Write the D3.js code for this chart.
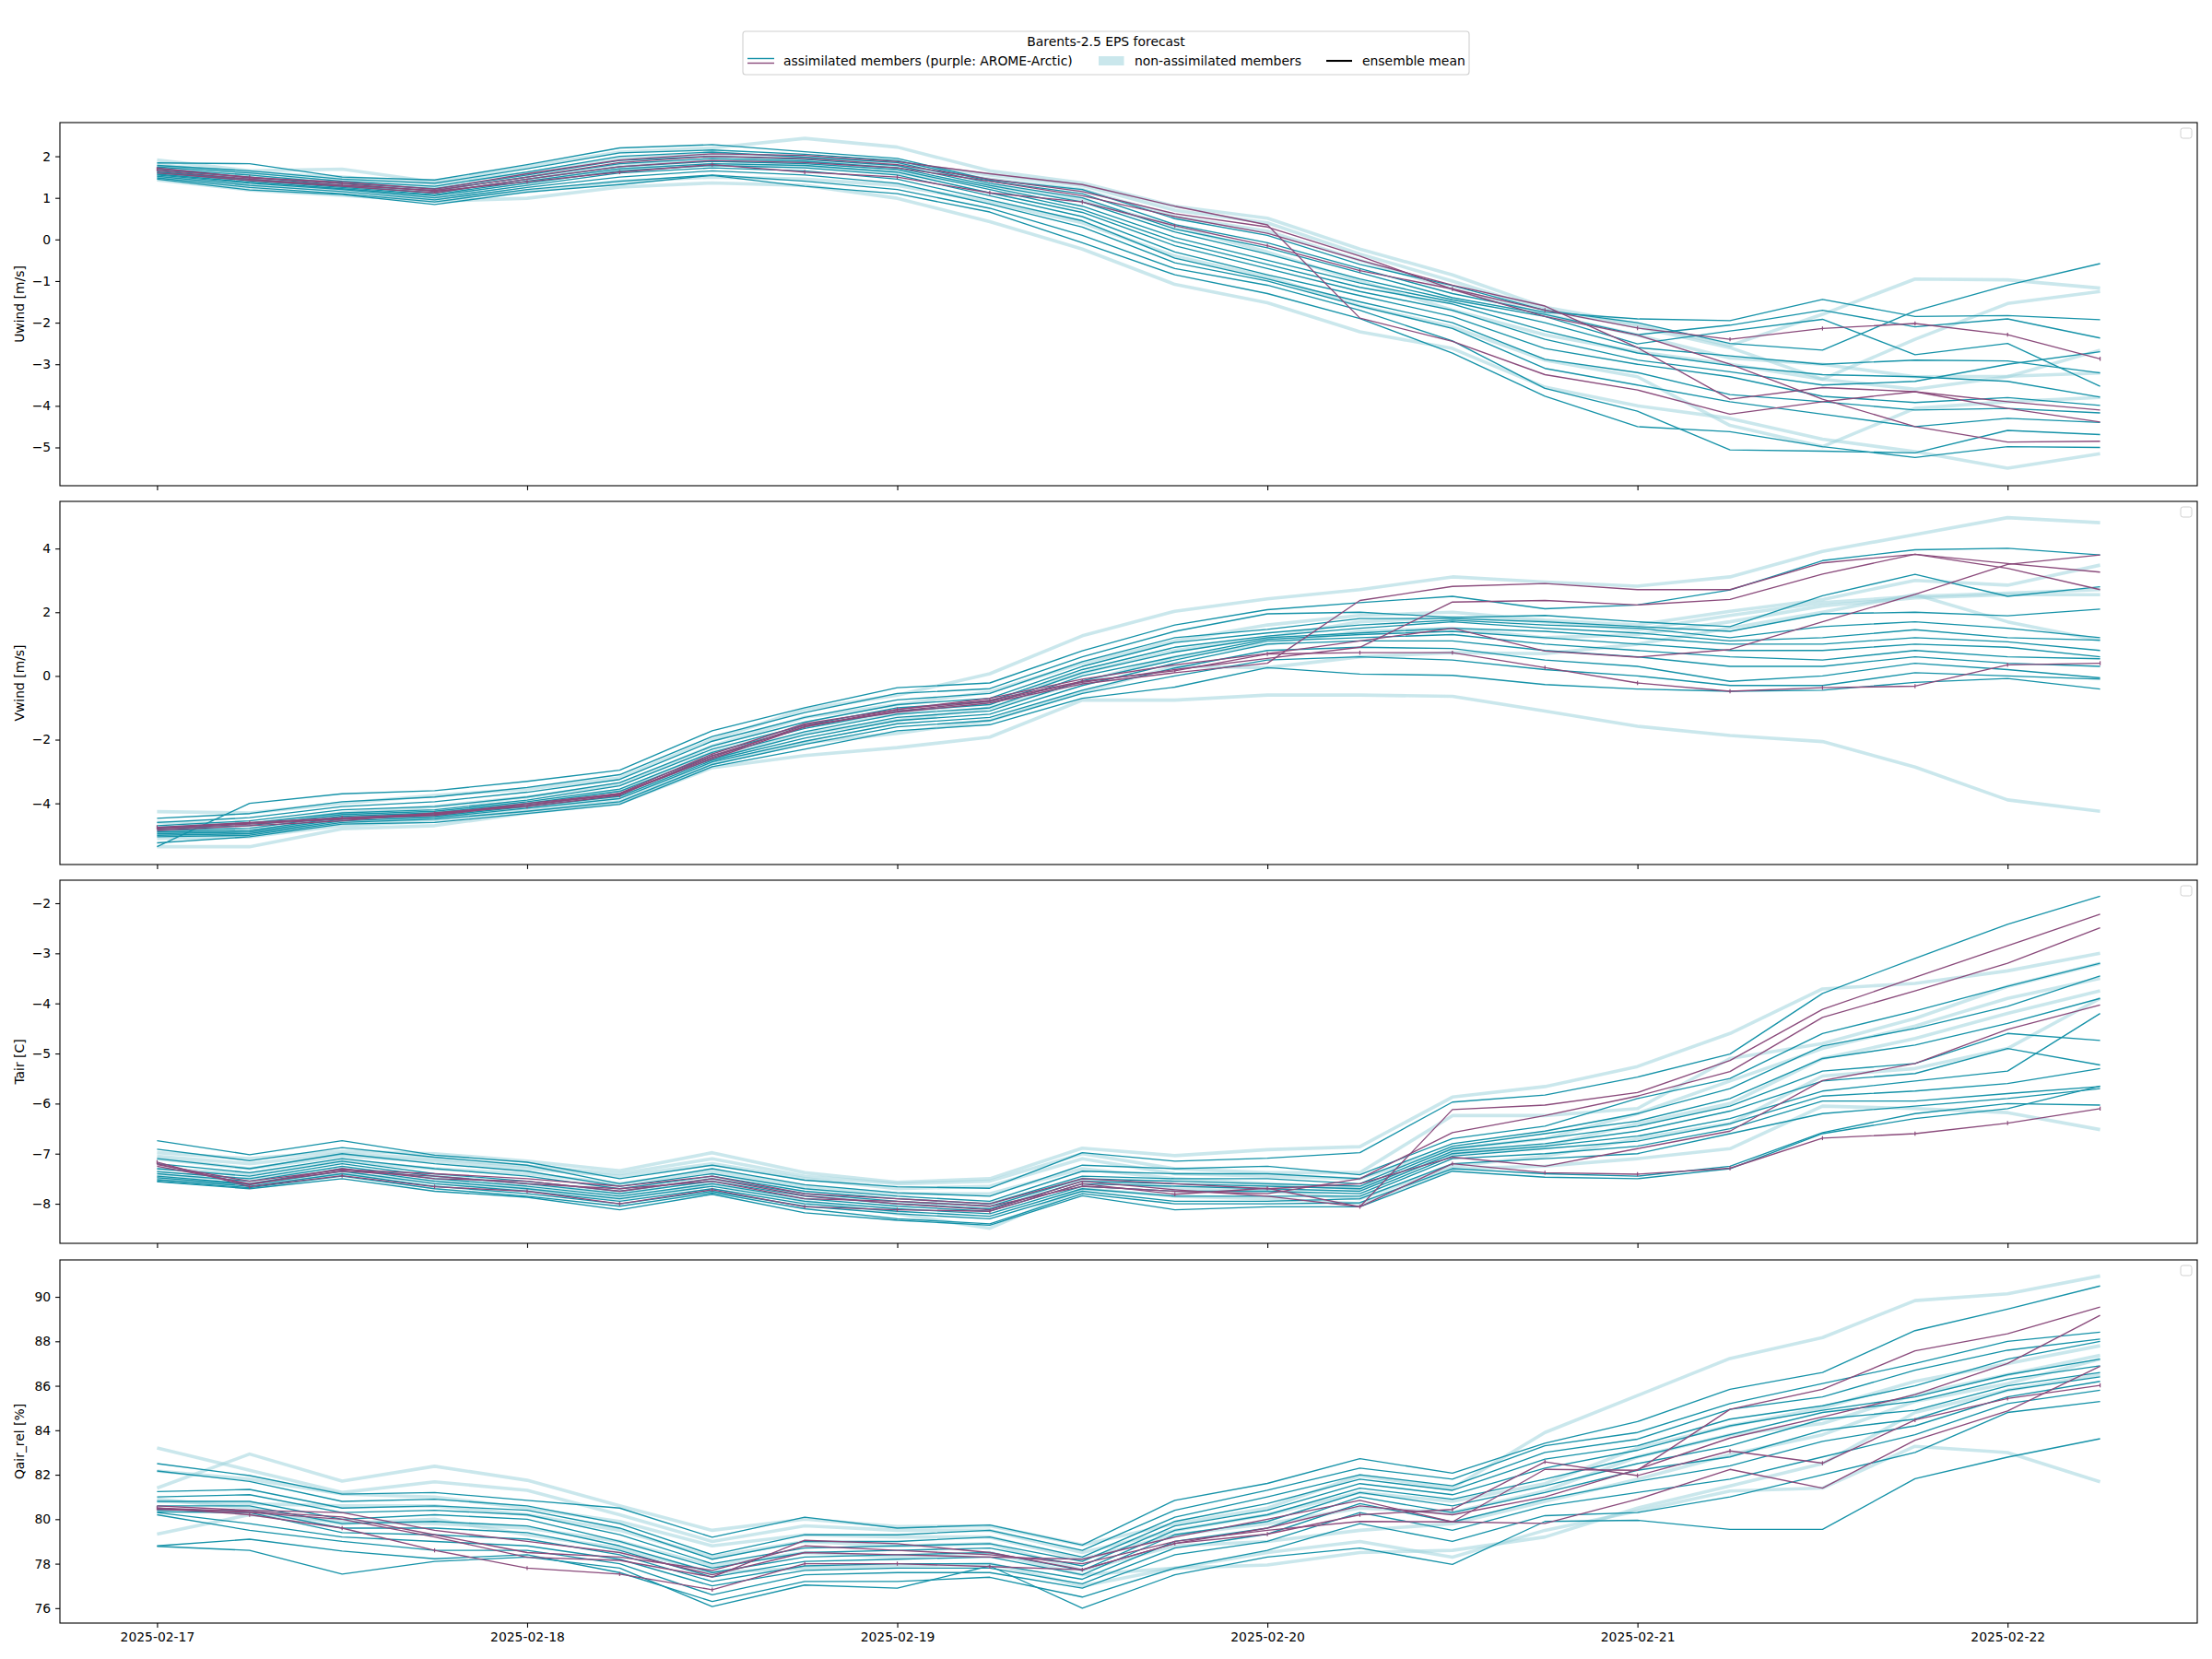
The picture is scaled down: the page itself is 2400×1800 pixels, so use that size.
<!DOCTYPE html>
<html><head><meta charset="utf-8">
<script src="https://cdn.jsdelivr.net/npm/d3@7"></script>
<style>body{margin:0;background:#fff;} svg{display:block;} text{font-family:"DejaVu Sans",sans-serif;}</style>
</head><body><svg id="chart" width="2400" height="1800"></svg>
<script>
// ---------------- DATA ----------------
const hours = [0,6,12,18,24,30,36,42,48,54,60,66,72,78,84,90,96,102,108,114,120,126];
const dateTickHours = [0,24,48,72,96,120];
const dateLabels = ["2025-02-17","2025-02-18","2025-02-19","2025-02-20","2025-02-21","2025-02-22"];
const panelLabels = ["Uwind [m/s]","Vwind [m/s]","Tair [C]","Qair_rel [%]"];
const uwindTicks = [-5,-4,-3,-2,-1,0,1,2];
const vwindTicks = [-4,-2,0,2,4];
const tairTicks = [-8,-7,-6,-5,-4,-3,-2];
const qairTicks = [76,78,80,82,84,86,88,90];
const legendTitle = "Barents-2.5 EPS forecast";
const legendLabels = ["assimilated members (purple: AROME-Arctic)","non-assimilated members","ensemble mean"];

// Uwind
const uwindTeal = [
 [1.84,1.82,1.5,1.43,1.8,2.2,2.28,2.11,1.95,1.43,1.2,0.5,0.1,-0.6,-1.11,-1.7,-2.0,-2.5,-2.66,-1.72,-1.1,-0.58],
 [1.78,1.65,1.45,1.35,1.7,2.08,2.15,2.05,1.9,1.4,1.1,0.36,-0.08,-0.7,-1.3,-1.75,-1.91,-1.95,-1.44,-1.85,-1.83,-1.93],
 [1.74,1.6,1.4,1.28,1.62,2.0,2.1,1.98,1.85,1.35,1.0,0.25,-0.2,-0.8,-1.4,-1.8,-2.29,-2.06,-1.7,-2.1,-1.91,-2.37],
 [1.7,1.55,1.35,1.22,1.55,1.9,2.0,1.92,1.78,1.3,0.9,0.18,-0.35,-0.95,-1.45,-1.85,-2.51,-2.2,-1.92,-2.77,-2.5,-3.53],
 [1.66,1.5,1.3,1.18,1.5,1.82,1.95,1.88,1.72,1.25,0.8,0.05,-0.5,-1.05,-1.5,-2.0,-2.6,-2.8,-3.0,-2.9,-2.92,-3.21],
 [1.62,1.45,1.28,1.12,1.45,1.75,1.88,1.82,1.68,1.2,0.72,-0.05,-0.6,-1.15,-1.55,-2.2,-2.73,-3.03,-3.25,-3.3,-3.41,-3.79],
 [1.6,1.42,1.25,1.08,1.4,1.7,1.82,1.78,1.62,1.12,0.65,-0.15,-0.7,-1.25,-1.7,-2.4,-2.9,-3.18,-3.5,-3.41,-3.0,-2.7],
 [1.57,1.38,1.22,1.05,1.35,1.65,1.78,1.72,1.55,1.05,0.55,-0.3,-0.85,-1.35,-1.85,-2.62,-3.0,-3.3,-3.77,-3.92,-3.8,-3.99],
 [1.55,1.35,1.2,1.0,1.3,1.6,1.72,1.65,1.45,0.95,0.45,-0.45,-0.95,-1.5,-2.0,-2.88,-3.2,-3.73,-3.9,-4.1,-4.06,-4.17],
 [1.52,1.3,1.15,0.95,1.25,1.5,1.65,1.55,1.35,0.85,0.3,-0.56,-1.0,-1.6,-2.14,-3.1,-3.5,-3.9,-4.2,-4.5,-4.3,-4.4],
 [1.48,1.25,1.1,0.9,1.2,1.4,1.55,1.4,1.2,0.75,0.1,-0.7,-1.1,-1.7,-2.44,-3.58,-4.13,-5.06,-5.09,-5.13,-4.59,-4.69],
 [1.45,1.19,1.08,0.84,1.14,1.32,1.54,1.28,1.1,0.66,-0.08,-0.85,-1.3,-1.9,-2.73,-3.77,-4.5,-4.62,-4.98,-5.24,-4.98,-5.0]
];
const uwindLight = [
 [1.91,1.65,1.69,1.38,1.75,2.1,2.2,2.43,2.22,1.65,1.36,0.8,0.51,-0.23,-0.85,-1.63,-2.03,-2.55,-1.8,-0.95,-0.97,-1.17],
 [1.8,1.6,1.5,1.35,1.6,1.95,2.05,1.95,1.85,1.55,1.3,0.7,0.4,-0.35,-1.0,-1.7,-2.1,-2.6,-3.36,-2.4,-1.54,-1.25],
 [1.7,1.5,1.4,1.25,1.5,1.8,1.9,1.85,1.75,1.45,1.2,0.55,0.2,-0.5,-1.19,-1.8,-2.3,-2.85,-3.0,-3.3,-3.29,-3.21],
 [1.6,1.45,1.3,1.15,1.4,1.7,1.8,1.75,1.6,1.3,0.95,0.3,-0.3,-1.0,-1.7,-2.29,-2.7,-3.0,-3.36,-3.6,-3.3,-2.66],
 [1.5,1.3,1.2,1.0,1.15,1.4,1.5,1.45,1.3,0.9,0.4,-0.4,-0.9,-1.6,-2.1,-2.9,-3.3,-4.47,-4.98,-4.06,-3.9,-3.8],
 [1.43,1.19,1.06,0.92,0.99,1.26,1.36,1.3,0.99,0.43,-0.23,-1.08,-1.52,-2.22,-2.62,-3.55,-4.0,-4.3,-4.8,-5.1,-5.5,-5.15]
];
const uwindPurple = [
 [1.69,1.5,1.34,1.16,1.39,1.62,1.8,1.62,1.5,1.12,0.9,0.33,-0.15,-0.75,-1.19,-1.7,-2.13,-2.4,-2.14,-2.02,-2.29,-2.87],
 [1.72,1.48,1.38,1.21,1.58,1.91,2.06,2.02,1.87,1.58,1.32,0.8,0.35,-1.89,-2.45,-3.25,-3.62,-4.2,-3.9,-3.66,-3.9,-4.1],
 [1.65,1.45,1.3,1.18,1.5,1.85,2.0,1.95,1.8,1.45,1.15,0.62,0.3,-0.4,-1.2,-1.85,-2.3,-3.0,-3.84,-4.5,-4.87,-4.85],
 [1.6,1.42,1.28,1.12,1.45,1.75,1.9,1.85,1.72,1.4,1.05,0.55,0.15,-0.5,-1.1,-1.6,-2.6,-3.84,-3.56,-3.66,-4.06,-4.39]
];

// Vwind
const vwindTeal = [
 [-5.36,-4.0,-3.7,-3.6,-3.31,-2.96,-1.72,-1.0,-0.37,-0.22,0.79,1.6,2.08,2.3,2.5,2.11,2.23,2.7,3.62,3.96,4.01,3.8],
 [-4.47,-4.32,-3.95,-3.8,-3.5,-3.1,-1.9,-1.15,-0.55,-0.4,0.6,1.4,1.95,2.0,1.84,1.9,1.7,1.55,2.52,3.19,2.5,2.8],
 [-4.6,-4.45,-4.1,-3.95,-3.65,-3.25,-2.05,-1.3,-0.75,-0.55,0.45,1.2,1.46,1.8,1.8,1.7,1.55,1.4,1.95,2.0,1.89,2.1],
 [-4.7,-4.55,-4.2,-4.1,-3.8,-3.35,-2.2,-1.45,-0.9,-0.7,0.3,1.05,1.35,1.6,1.75,1.6,1.5,1.2,1.55,1.7,1.5,1.2],
 [-4.75,-4.62,-4.3,-4.2,-3.9,-3.45,-2.3,-1.55,-1.0,-0.8,0.2,0.9,1.25,1.5,1.7,1.5,1.35,1.1,1.2,1.45,1.2,1.12],
 [-4.8,-4.7,-4.35,-4.25,-3.95,-3.55,-2.4,-1.65,-1.1,-0.9,0.1,0.75,1.2,1.35,1.5,1.4,1.2,1.0,1.0,1.2,1.07,0.8],
 [-4.85,-4.78,-4.4,-4.3,-4.0,-3.62,-2.5,-1.75,-1.2,-1.0,0.0,0.6,1.15,1.3,1.4,1.2,1.0,0.8,0.8,1.0,0.9,0.6],
 [-4.9,-4.85,-4.45,-4.35,-4.05,-3.7,-2.6,-1.85,-1.3,-1.1,-0.15,0.5,1.1,1.2,1.3,1.0,0.8,0.6,0.5,0.8,0.6,0.54],
 [-4.95,-4.9,-4.5,-4.4,-4.1,-3.78,-2.65,-1.95,-1.4,-1.2,-0.3,0.4,1.0,1.1,1.1,0.8,0.6,0.3,0.3,0.6,0.4,0.3],
 [-5.0,-4.95,-4.55,-4.45,-4.15,-3.85,-2.7,-2.05,-1.5,-1.3,-0.45,0.25,0.8,0.9,0.86,0.5,0.3,-0.17,0.0,0.4,0.2,-0.06],
 [-5.05,-5.0,-4.6,-4.5,-4.25,-3.95,-2.78,-2.15,-1.6,-1.4,-0.55,0.0,0.5,0.6,0.5,0.2,0.0,-0.3,-0.3,0.1,0.0,-0.1],
 [-5.24,-5.05,-4.65,-4.6,-4.32,-4.03,-2.85,-2.3,-1.72,-1.53,-0.7,-0.35,0.26,0.06,0.02,-0.27,-0.41,-0.48,-0.45,-0.2,-0.08,-0.41]
];
const vwindLight = [
 [-4.26,-4.3,-4.0,-3.75,-3.55,-3.2,-2.0,-1.05,-0.6,0.07,1.26,2.03,2.42,2.71,3.11,2.95,2.82,3.11,3.91,4.44,4.97,4.81],
 [-4.6,-4.65,-4.3,-4.1,-3.8,-3.4,-2.2,-1.3,-0.9,-0.5,0.4,1.1,1.6,1.9,2.0,1.75,1.6,2.03,2.4,3.0,2.85,3.48],
 [-4.9,-4.9,-4.5,-4.3,-4.0,-3.6,-2.4,-1.6,-1.2,-0.8,0.1,0.8,1.2,1.7,1.84,1.7,1.45,1.9,2.3,2.5,2.6,2.71],
 [-5.0,-5.0,-4.6,-4.45,-4.1,-3.8,-2.6,-1.8,-1.4,-1.0,-0.2,0.6,1.0,1.4,1.5,1.2,1.3,1.7,2.2,2.45,2.55,2.55],
 [-5.1,-5.05,-4.7,-4.55,-4.2,-3.95,-2.75,-2.1,-1.8,-1.4,-0.5,0.3,0.26,0.6,0.73,0.7,1.0,1.5,2.0,2.56,1.7,1.12],
 [-5.36,-5.36,-4.8,-4.7,-4.3,-4.0,-2.88,-2.5,-2.25,-1.92,-0.76,-0.76,-0.6,-0.6,-0.64,-1.1,-1.58,-1.87,-2.06,-2.86,-3.89,-4.25]
];
const vwindPurple = [
 [-4.75,-4.6,-4.45,-4.32,-4.1,-3.75,-2.5,-1.6,-1.05,-0.76,-0.17,0.16,0.69,0.73,0.73,0.26,-0.22,-0.48,-0.37,-0.32,0.35,0.4],
 [-4.8,-4.65,-4.5,-4.35,-4.0,-3.7,-2.55,-1.55,-1.14,-0.85,-0.25,0.1,0.4,2.37,2.81,2.9,2.71,2.71,3.55,3.82,3.38,2.71],
 [-4.85,-4.7,-4.55,-4.3,-4.05,-3.72,-2.6,-1.6,-1.1,-0.8,-0.2,0.2,0.55,0.9,2.32,2.37,2.23,2.4,3.2,3.82,3.53,3.26],
 [-4.78,-4.62,-4.48,-4.38,-4.05,-3.68,-2.45,-1.5,-1.05,-0.7,-0.1,0.35,0.7,1.1,1.5,0.78,0.59,0.83,1.7,2.56,3.5,3.8]
];

// Tair
const tairTeal = [
 [-6.74,-7.02,-6.74,-7.03,-7.17,-7.5,-7.23,-7.53,-7.66,-7.69,-6.98,-7.15,-7.09,-6.98,-5.97,-5.83,-5.47,-5.01,-3.8,-3.1,-2.42,-1.86],
 [-6.91,-7.14,-6.88,-7.07,-7.23,-7.6,-7.3,-7.62,-7.78,-7.85,-7.23,-7.3,-7.25,-7.42,-6.7,-6.45,-5.9,-5.5,-4.6,-4.15,-3.66,-3.2],
 [-7.1,-7.3,-7.0,-7.2,-7.35,-7.65,-7.4,-7.7,-7.85,-7.95,-7.35,-7.4,-7.4,-7.5,-6.8,-6.55,-6.2,-5.7,-4.85,-4.5,-4.06,-3.45],
 [-7.2,-7.38,-7.1,-7.3,-7.45,-7.7,-7.45,-7.75,-7.9,-8.0,-7.45,-7.5,-7.5,-7.6,-6.85,-6.6,-6.35,-5.9,-5.1,-4.83,-4.4,-3.9],
 [-7.3,-7.45,-7.15,-7.4,-7.55,-7.75,-7.5,-7.8,-7.95,-8.05,-7.5,-7.55,-7.6,-7.65,-6.9,-6.7,-6.45,-6.05,-5.35,-5.2,-4.6,-4.74],
 [-7.36,-7.5,-7.2,-7.45,-7.6,-7.8,-7.55,-7.85,-8.0,-8.1,-7.55,-7.6,-7.65,-7.7,-6.95,-6.8,-6.55,-6.15,-5.55,-5.4,-4.9,-5.23],
 [-7.4,-7.55,-7.25,-7.5,-7.65,-7.85,-7.6,-7.9,-8.05,-8.15,-7.6,-7.65,-7.7,-7.75,-7.0,-6.85,-6.65,-6.3,-5.75,-5.55,-5.35,-4.2],
 [-7.45,-7.6,-7.3,-7.55,-7.7,-7.9,-7.65,-7.95,-8.1,-8.2,-7.65,-7.75,-7.75,-7.8,-7.05,-6.9,-6.75,-6.4,-5.85,-5.75,-5.6,-5.3],
 [-7.48,-7.62,-7.35,-7.6,-7.75,-7.95,-7.7,-8.0,-8.15,-8.25,-7.7,-7.85,-7.85,-7.85,-7.1,-7.0,-6.85,-6.5,-5.95,-5.95,-5.8,-5.66],
 [-7.52,-7.65,-7.4,-7.65,-7.8,-8.0,-7.75,-8.05,-8.2,-8.3,-7.75,-7.95,-7.95,-7.9,-7.2,-7.1,-7.0,-6.6,-6.2,-6.05,-5.9,-5.7],
 [-7.55,-7.68,-7.45,-7.7,-7.85,-8.05,-7.78,-8.1,-8.3,-8.4,-7.8,-8.0,-8.0,-7.98,-7.3,-7.4,-7.45,-7.25,-6.58,-6.2,-6.0,-6.03],
 [-7.56,-7.7,-7.5,-7.75,-7.87,-8.12,-7.81,-8.18,-8.33,-8.43,-7.84,-8.12,-8.06,-8.06,-7.35,-7.47,-7.5,-7.3,-6.6,-6.3,-6.1,-5.65]
];
const tairLight = [
 [-6.98,-7.1,-6.95,-7.0,-7.15,-7.34,-6.98,-7.38,-7.57,-7.5,-6.89,-7.04,-6.92,-6.86,-5.87,-5.66,-5.26,-4.6,-3.71,-3.6,-3.35,-3.0],
 [-7.05,-7.2,-7.0,-7.1,-7.25,-7.4,-7.1,-7.45,-7.6,-7.55,-7.0,-7.3,-7.38,-7.38,-6.24,-6.24,-6.1,-5.1,-4.8,-4.3,-3.66,-3.2],
 [-7.1,-7.3,-7.05,-7.15,-7.3,-7.45,-7.2,-7.5,-7.7,-7.65,-7.1,-7.4,-7.45,-7.5,-6.9,-6.7,-6.2,-5.55,-4.9,-4.45,-3.9,-3.5],
 [-7.3,-7.4,-7.15,-7.3,-7.4,-7.6,-7.35,-7.65,-7.8,-7.8,-7.3,-7.5,-7.6,-7.7,-7.0,-6.85,-6.4,-6.0,-5.1,-4.7,-4.2,-3.75],
 [-7.45,-7.5,-7.3,-7.45,-7.6,-7.8,-7.5,-7.8,-8.0,-8.0,-7.5,-7.7,-7.75,-7.9,-7.25,-7.05,-6.7,-6.4,-5.45,-5.3,-4.9,-3.9],
 [-7.5,-7.6,-7.4,-7.55,-7.7,-7.9,-7.6,-7.95,-8.2,-8.49,-7.7,-7.85,-7.9,-8.0,-7.3,-7.25,-7.1,-6.9,-6.05,-6.1,-6.18,-6.52]
];
const tairPurple = [
 [-7.17,-7.66,-7.44,-7.66,-7.75,-8.0,-7.72,-8.06,-8.12,-8.15,-7.6,-7.81,-7.69,-8.06,-7.2,-7.38,-7.41,-7.29,-6.69,-6.6,-6.39,-6.1],
 [-7.2,-7.62,-7.3,-7.5,-7.55,-7.75,-7.5,-7.84,-8.0,-8.12,-7.55,-7.72,-7.85,-8.06,-6.12,-6.03,-5.78,-5.14,-4.12,-3.48,-2.85,-2.22],
 [-7.25,-7.6,-7.35,-7.45,-7.6,-7.7,-7.55,-7.9,-7.95,-8.05,-7.65,-7.75,-7.8,-7.5,-6.58,-6.24,-5.85,-5.36,-4.28,-3.75,-3.2,-2.49],
 [-7.22,-7.55,-7.32,-7.4,-7.5,-7.65,-7.45,-7.8,-7.9,-8.0,-7.5,-7.6,-7.7,-7.6,-7.07,-7.25,-6.9,-6.55,-5.54,-5.2,-4.52,-4.03]
];

// Qair_rel
const qairTeal = [
 [82.5,81.96,81.13,81.2,80.85,80.5,79.19,80.09,79.6,79.74,78.84,80.85,81.61,82.72,82.07,83.42,84.39,85.84,86.6,88.48,89.45,90.49],
 [82.17,81.7,80.8,80.9,80.6,79.8,78.4,79.3,79.3,79.5,78.6,80.4,81.3,82.3,81.8,83.3,83.9,85.2,86.1,87.0,88.0,88.41],
 [81.24,81.34,80.5,80.6,80.4,79.6,78.2,79.0,79.0,79.2,78.3,80.09,81.0,82.0,81.5,83.0,83.6,84.94,85.5,86.7,87.6,88.1],
 [81.0,81.1,80.3,80.4,80.2,79.3,78.0,78.7,78.8,78.9,78.1,79.9,80.7,81.8,81.3,82.7,83.3,84.5,85.1,86.0,87.2,88.0],
 [80.8,80.8,80.0,80.2,80.0,79.0,77.8,78.5,78.6,78.7,77.9,79.7,80.4,81.6,81.1,82.3,83.1,84.2,84.9,85.5,86.5,87.2],
 [80.6,80.6,79.8,79.9,79.7,78.8,77.6,78.3,78.4,78.5,77.7,79.5,80.2,81.4,80.9,81.8,82.8,83.8,84.8,85.3,86.3,86.9],
 [80.4,80.4,79.6,79.6,79.4,78.6,77.4,78.1,78.2,78.3,77.5,79.3,79.9,81.2,80.6,81.5,82.5,83.3,84.5,84.9,86.0,86.6],
 [80.33,80.3,79.4,79.3,79.1,78.4,77.2,77.9,78.0,78.0,77.3,79.0,79.6,81.0,80.3,81.2,82.2,82.8,84.0,84.5,85.8,86.4],
 [80.3,79.8,79.2,79.0,78.8,78.2,77.0,77.7,77.8,77.8,77.1,78.7,79.33,80.7,79.88,80.9,81.7,82.4,83.5,84.2,85.5,86.2],
 [80.2,79.5,79.0,78.6,78.6,78.0,76.6,77.5,77.6,77.6,76.9,78.4,79.0,80.3,79.5,80.6,81.2,81.8,82.8,83.8,85.2,85.8],
 [78.8,79.1,78.57,78.22,78.4,77.6,76.3,77.2,77.2,77.39,76.5,77.8,78.6,79.8,79.0,80.16,80.3,81.0,82.0,83.0,84.8,85.29],
 [78.78,78.6,77.53,78.1,78.3,77.8,76.07,77.04,76.9,77.9,76.0,77.5,78.3,78.7,77.97,79.9,79.95,79.54,79.54,81.82,82.79,83.62]
];
const qairLight = [
 [81.4,82.93,81.71,82.38,81.75,80.6,79.5,80.0,79.67,79.7,78.84,79.8,80.5,81.96,81.4,83.9,85.56,87.23,88.17,89.83,90.14,90.94],
 [83.2,82.2,81.2,81.68,81.3,80.2,79.0,79.7,79.5,79.5,78.5,79.5,80.2,81.2,80.8,81.6,83.2,84.2,85.0,86.2,87.0,87.8],
 [82.17,81.8,81.13,81.0,80.5,79.9,78.8,79.3,79.2,79.2,78.2,79.3,79.8,80.5,80.3,81.27,82.8,83.8,84.3,85.6,86.5,87.37],
 [80.8,80.7,80.6,80.6,80.2,79.5,78.3,79.0,78.8,78.9,77.7,78.8,79.0,79.5,79.8,80.8,81.8,82.9,83.8,85.3,86.1,87.2],
 [79.33,80.2,79.9,79.8,79.6,79.0,77.9,78.5,78.3,78.5,77.5,77.8,78.5,79.0,78.29,79.5,80.37,81.27,81.4,83.28,83.0,81.68],
 [80.9,80.5,79.8,80.0,79.3,78.7,77.6,77.8,77.9,78.0,77.0,77.8,77.94,78.5,78.6,79.2,80.5,81.5,82.5,84.8,85.8,86.5]
];
const qairPurple = [
 [80.5,80.2,79.6,78.6,77.8,77.53,76.83,78.0,78.0,77.87,77.73,78.91,79.33,80.2,80.44,82.58,81.96,83.07,82.52,84.46,85.43,86.02],
 [80.6,80.4,80.3,79.5,79.0,78.5,77.5,78.5,78.4,78.3,78.2,79.2,80.0,80.85,79.88,82.24,82.2,84.94,85.84,87.57,88.34,89.54],
 [80.45,80.3,80.0,79.2,78.29,78.15,77.4,79.05,78.9,78.5,77.73,78.91,79.6,80.6,80.2,81.0,82.24,83.65,84.6,85.6,87.0,89.17],
 [80.5,80.35,80.1,79.3,78.5,78.3,77.7,78.8,78.6,78.4,78.0,79.0,79.5,79.9,79.88,79.81,80.9,82.24,81.4,83.55,84.87,86.88]
];

// ---------------- DRAWING ----------------
const TEAL = "#1592a8", PURPLE = "#8a4a7b", LIGHT = "#9fd3dc", LIGHT_OP = 0.55;
const FONT = 13.9;
const svg = d3.select("#chart");
const plotLeft = 65, plotRight = 2384;
const x = d3.scaleLinear().domain([-6.3, 132.3]).range([plotLeft, plotRight]);

const panels = [
  {top:133, bottom:527, domain:[-5.92,2.81], ticks:uwindTicks, label:panelLabels[0], teal:uwindTeal, light:uwindLight, purple:uwindPurple},
  {top:544, bottom:938, domain:[-5.92,5.48], ticks:vwindTicks, label:panelLabels[1], teal:vwindTeal, light:vwindLight, purple:vwindPurple},
  {top:955, bottom:1349, domain:[-8.79,-1.54], ticks:tairTicks, label:panelLabels[2], teal:tairTeal, light:tairLight, purple:tairPurple},
  {top:1367, bottom:1761, domain:[75.33,91.66], ticks:qairTicks, label:panelLabels[3], teal:qairTeal, light:qairLight, purple:qairPurple}
];

panels.forEach((p, k) => {
  const y = d3.scaleLinear().domain(p.domain).range([p.bottom, p.top]);
  const g = svg.append("g");
  const line = d3.line().x((d,i) => x(hours[i])).y(d => y(d));

  g.append("g").selectAll("path").data(p.light).join("path")
    .attr("d", line).attr("fill","none").attr("stroke", LIGHT)
    .attr("stroke-opacity", LIGHT_OP).attr("stroke-width", 3.6)
    .attr("stroke-linejoin","round").attr("stroke-linecap","butt");

  g.append("g").selectAll("path").data(p.teal).join("path")
    .attr("d", line).attr("fill","none").attr("stroke", TEAL)
    .attr("stroke-width", 1.35).attr("stroke-linejoin","round");

  g.append("g").selectAll("path").data(p.purple).join("path")
    .attr("d", line).attr("fill","none").attr("stroke", PURPLE)
    .attr("stroke-width", 1.35).attr("stroke-linejoin","round");

  // markers on the AROME-Arctic line
  g.append("g").selectAll("line").data(p.purple[0]).join("line")
    .attr("x1",(d,i)=>x(hours[i])).attr("x2",(d,i)=>x(hours[i]))
    .attr("y1",d=>y(d)-2.2).attr("y2",d=>y(d)+2.2)
    .attr("stroke", PURPLE).attr("stroke-width",1.2);

  // y axis
  const ya = g.append("g").attr("transform",`translate(${plotLeft},0)`)
    .call(d3.axisLeft(y).tickValues(p.ticks).tickSize(4.9).tickPadding(4.9).tickFormat(d3.format("d")));
  ya.select(".domain").remove();
  ya.selectAll("line").attr("stroke","#000").attr("stroke-width",1.1);
  ya.selectAll("text").attr("font-size",FONT).attr("font-family","DejaVu Sans").attr("fill","#000");

  // x axis
  const xa = g.append("g").attr("transform",`translate(0,${p.bottom})`)
    .call(d3.axisBottom(x).tickValues(dateTickHours).tickSize(4.9).tickPadding(4.9)
      .tickFormat((d,i) => k === panels.length-1 ? dateLabels[i] : ""));
  xa.select(".domain").remove();
  xa.selectAll("line").attr("stroke","#000").attr("stroke-width",1.1);
  xa.selectAll("text").attr("font-size",FONT).attr("font-family","DejaVu Sans").attr("fill","#000");

  // frame
  g.append("rect").attr("x",plotLeft).attr("y",p.top)
    .attr("width",plotRight-plotLeft).attr("height",p.bottom-p.top)
    .attr("fill","none").attr("stroke","#000").attr("stroke-width",1.1);

  // empty per-axes legend box
  g.append("rect").attr("x",plotRight-18).attr("y",p.top+6).attr("width",12).attr("height",11)
    .attr("rx",2.5).attr("fill","#fff").attr("fill-opacity",0.8).attr("stroke","#d0d0d0").attr("stroke-width",1);

  // y label
  g.append("text").attr("transform",`translate(21,${(p.top+p.bottom)/2}) rotate(-90)`)
    .attr("text-anchor","middle").attr("dominant-baseline","central")
    .attr("font-size",FONT).text(p.label);
});

// figure legend
const lg = svg.append("g");
lg.append("rect").attr("x",806).attr("y",34).attr("width",788).attr("height",47).attr("rx",3)
  .attr("fill","#fff").attr("stroke","#d0d0d0").attr("stroke-width",1.1);
lg.append("text").attr("x",1200).attr("y",45).attr("text-anchor","middle").attr("dominant-baseline","central")
  .attr("font-size",FONT).text(legendTitle);
lg.append("line").attr("x1",811).attr("x2",840).attr("y1",63.5).attr("y2",63.5).attr("stroke",TEAL).attr("stroke-width",1.4);
lg.append("line").attr("x1",811).attr("x2",840).attr("y1",68.5).attr("y2",68.5).attr("stroke",PURPLE).attr("stroke-width",1.4);
lg.append("text").attr("x",850).attr("y",66).attr("dominant-baseline","central").attr("font-size",FONT).text(legendLabels[0]);
lg.append("rect").attr("x",1192).attr("y",61).attr("width",27.5).attr("height",10)
  .attr("fill",LIGHT).attr("fill-opacity",LIGHT_OP);
lg.append("text").attr("x",1231).attr("y",66).attr("dominant-baseline","central").attr("font-size",FONT).text(legendLabels[1]);
lg.append("line").attr("x1",1439).attr("x2",1467).attr("y1",66).attr("y2",66).attr("stroke","#000").attr("stroke-width",2.1);
lg.append("text").attr("x",1478).attr("y",66).attr("dominant-baseline","central").attr("font-size",FONT).text(legendLabels[2]);
</script>
</body></html>
